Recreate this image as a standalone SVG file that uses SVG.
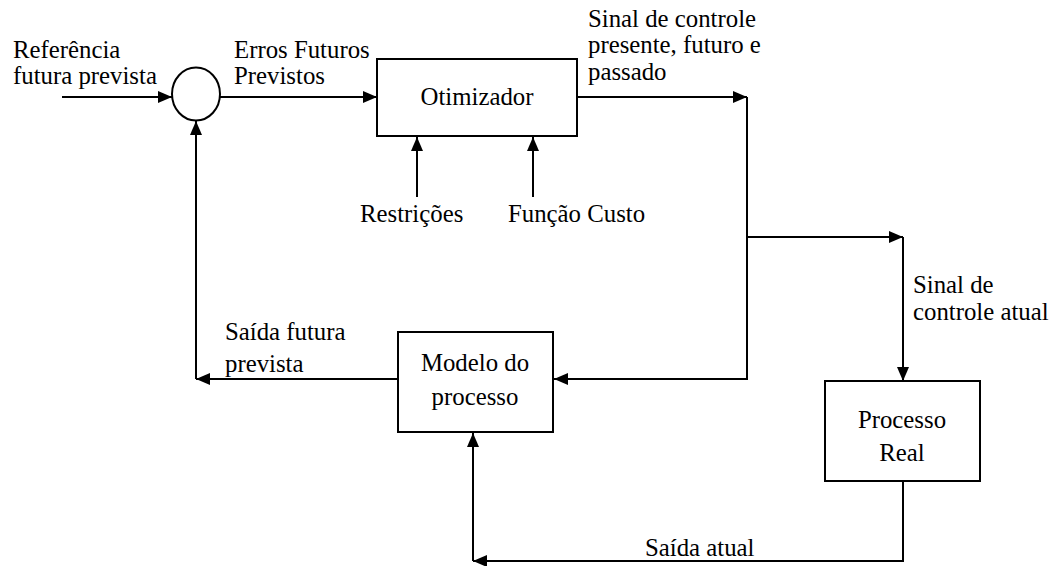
<svg xmlns="http://www.w3.org/2000/svg" width="1052" height="566" viewBox="0 0 1052 566">
<style>
text{font-family:'Liberation Serif','Times New Roman',serif;font-size:24.8px;fill:#000}
.c{text-anchor:middle}
.ln{fill:none;stroke:#000;stroke-width:2}
.bx{fill:#fff;stroke:#000;stroke-width:2}
</style>
<defs>
<marker id="ah" viewBox="0 0 14 12" refX="14" refY="6" markerWidth="14" markerHeight="12" markerUnits="userSpaceOnUse" orient="auto">
<path d="M0,0 L14,6 L0,12 Z" fill="#000"/>
</marker>
</defs>
<rect width="1052" height="566" fill="#fff"/>
<g id="connectors">
<path class="ln" d="M62,97 H172" marker-end="url(#ah)"/>
<path class="ln" d="M220,97 H377" marker-end="url(#ah)"/>
<path class="ln" d="M577,97 H747" marker-end="url(#ah)"/>
<path class="ln" d="M417,197 V137" marker-end="url(#ah)"/>
<path class="ln" d="M533,197 V137" marker-end="url(#ah)"/>
<path class="ln" d="M747,97 V379 H554" marker-end="url(#ah)"/>
<path class="ln" d="M747,237 H903" marker-end="url(#ah)"/>
<path class="ln" d="M903,237 V381" marker-end="url(#ah)"/>
<path class="ln" d="M903,481 V561 H473" marker-end="url(#ah)"/>
<path class="ln" d="M473,561 V433" marker-end="url(#ah)"/>
<path class="ln" d="M398,379 H196" marker-end="url(#ah)"/>
<path class="ln" d="M196,379 V121" marker-end="url(#ah)"/>
</g>
<g id="sum">
<ellipse cx="196" cy="94" rx="24" ry="26.5" class="bx"/>
</g>
<g id="otimizador">
<rect x="377" y="59" width="200" height="77" class="bx"/>
<text x="477" y="105" class="c">Otimizador</text>
</g>
<g id="modelo">
<rect x="398" y="332" width="155" height="100" class="bx"/>
<text x="475" y="371" class="c">Modelo do</text>
<text x="475" y="405" class="c">processo</text>
</g>
<g id="processo">
<rect x="825" y="381" width="155" height="100" class="bx"/>
<text x="902" y="428" class="c">Processo</text>
<text x="902" y="461" class="c">Real</text>
</g>
<g id="labels">
<text x="13" y="58">Referência</text>
<text x="13" y="84">futura prevista</text>
<text x="234" y="58">Erros Futuros</text>
<text x="234" y="84">Previstos</text>
<text x="588" y="27">Sinal de controle</text>
<text x="588" y="53">presente, futuro e</text>
<text x="588" y="80">passado</text>
<text x="360" y="222">Restrições</text>
<text x="508" y="222">Função Custo</text>
<text x="913" y="293">Sinal de</text>
<text x="913" y="320">controle atual</text>
<text x="225" y="340">Saída futura</text>
<text x="225" y="372">prevista</text>
<text x="645" y="556">Saída atual</text>
</g>
</svg>
